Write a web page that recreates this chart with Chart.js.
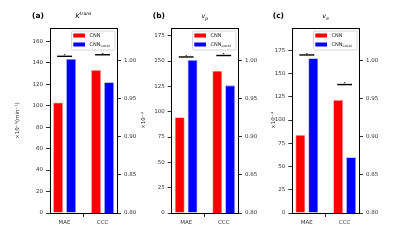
<!DOCTYPE html>
<html>
<head>
<meta charset="utf-8">
<script src="https://cdn.jsdelivr.net/npm/chart.js@4.4.0/dist/chart.umd.min.js"></script>
<style>
  body { margin: 0; background: #fff; width: 400px; height: 240px; position: relative; overflow: hidden; }
  canvas { position: absolute; top: 0; }
</style>
</head>
<body>
<canvas id="ca" width="140" height="240" style="left:0px"></canvas>
<canvas id="cb" width="130" height="240" style="left:140px"></canvas>
<canvas id="cc" width="130" height="240" style="left:270px"></canvas>
<script>
const categories = ['MAE', 'CCC'];
const seriesNames = ['CNN', 'CNN_Local'];
const seriesColors = ['#ff0000', '#0000ff'];

// MAE on left axis, CCC on right axis  [CNN, CNN_Local]
const ktransMae = [103, 143.5];
const ktransCcc = [0.987, 0.971];
const vpMae = [94.5, 151];
const vpCcc = [0.986, 0.967];
const veMae = [84, 166.5];
const veCcc = [0.948, 0.873];

// height of the significance bars [MAE, CCC]
const sigKtrans = [146, 1.007];
const sigVp = [154, 1.006];
const sigVe = [170, 0.968];

const leftTicksA = { max: 172.4, step: 20 };
const leftTicksB = { max: 182.6, step: 25 };
const leftTicksC = { max: 199, step: 25 };
const rightTicks = { min: 0.8, max: 1.042, step: 0.05 };
const xRange = { min: -0.384, max: 1.38 };

const FONT = 'DejaVu Sans';
const tickFont = { family: FONT, size: 5.5 };

function drawRich(ctx, parts, x, y, align) {
  let w = 0;
  parts.forEach(p => { ctx.font = (p.style || '') + ' ' + p.size + 'px "' + FONT + '"'; w += ctx.measureText(p.t).width; });
  let cx = align === 'center' ? x - w / 2 : x;
  parts.forEach(p => {
    ctx.font = (p.style || '') + ' ' + p.size + 'px "' + FONT + '"';
    ctx.fillText(p.t, cx, y + (p.dy || 0));
    cx += ctx.measureText(p.t).width;
  });
}

const decor = {
  id: 'decor',
  afterDatasetsDraw(chart, args, opts) {
    const ctx = chart.ctx, a = chart.chartArea;
    ctx.save();
    // top spine
    ctx.strokeStyle = '#000';
    ctx.lineWidth = 1;
    ctx.beginPath();
    ctx.moveTo(a.left, a.top + 0.5);
    ctx.lineTo(a.right, a.top + 0.5);
    ctx.stroke();
    // significance bars
    [[0, 1, 'y'], [2, 3, 'y1']].forEach(([i, j, ax], k) => {
      const b0 = chart.getDatasetMeta(i).data[k];
      const b1 = chart.getDatasetMeta(j).data[k];
      const yy = chart.scales[ax].getPixelForValue(opts.sig[k]);
      ctx.lineWidth = 1.4;
      ctx.beginPath();
      ctx.moveTo(b0.x - 1, yy);
      ctx.lineTo(b1.x + 1, yy);
      ctx.stroke();
      ctx.fillStyle = '#000';
      ctx.font = '4.5px "' + FONT + '"';
      ctx.textAlign = 'center';
      ctx.textBaseline = 'alphabetic';
      ctx.fillText('*', (b0.x + b1.x) / 2, yy + 0.8);
    });
    // legend
    const lw = 43.5, lh = 19;
    const lx = a.right - 2 - lw, ly = a.top + 3;
    ctx.fillStyle = 'rgba(255,255,255,0.85)';
    ctx.strokeStyle = '#cccccc';
    ctx.lineWidth = 0.8;
    ctx.beginPath();
    ctx.roundRect(lx, ly, lw, lh, 1.5);
    ctx.fill();
    ctx.stroke();
    chart.data.datasets.slice(0, 2).forEach((ds, n) => {
      const ry = ly + 2.5 + n * 9;
      ctx.fillStyle = ds.backgroundColor;
      ctx.fillRect(lx + 1.8, ry, 11.7, 4);
      ctx.fillStyle = '#222';
      ctx.textAlign = 'left';
      ctx.textBaseline = 'middle';
      const [main, sub] = ds.label.split('_');
      const parts = [{ t: main, size: 5 }];
      if (sub) parts.push({ t: sub, size: 3.6, dy: 1.3 });
      drawRich(ctx, parts, lx + 18, ry + 2.2, 'left');
    });
    ctx.restore();
  },
  afterDraw(chart, args, opts) {
    const ctx = chart.ctx, a = chart.chartArea;
    ctx.save();
    ctx.fillStyle = '#000';
    ctx.textBaseline = 'alphabetic';
    ctx.textAlign = 'left';
    ctx.font = 'bold 7.5px "' + FONT + '"';
    ctx.fillText(opts.letter, opts.letterX, 18);
    drawRich(ctx, opts.title, (a.left + a.right) / 2, 18, 'center');
    ctx.restore();
  }
};

function pts(vals) {
  return vals.map((v, i) => ({ x: i, y: v }));
}

function makePanel(id, mae, ccc, sig, left, yLabel, yTitlePad, leftW, rightW, letter, letterX, title) {
  const axisGrid = { display: true, drawOnChartArea: false, drawTicks: true, tickLength: 4, color: '#000', lineWidth: 0.8 };
  const axisBorder = { display: true, color: '#000', width: 1 };
  new Chart(document.getElementById(id), {
    type: 'bar',
    data: {
      datasets: [
        { label: seriesNames[0], data: pts([mae[0], null]), backgroundColor: seriesColors[0], borderColor: '#ff9a9a', yAxisID: 'y' },
        { label: seriesNames[1], data: pts([mae[1], null]), backgroundColor: seriesColors[1], borderColor: '#9a9aff', yAxisID: 'y' },
        { label: seriesNames[0], data: pts([null, ccc[0]]), backgroundColor: seriesColors[0], borderColor: '#ff9a9a', yAxisID: 'y1' },
        { label: seriesNames[1], data: pts([null, ccc[1]]), backgroundColor: seriesColors[1], borderColor: '#9a9aff', yAxisID: 'y1' }
      ]
    },
    options: {
      responsive: false,
      animation: false,
      layout: { padding: { top: 28, left: 0, right: 0, bottom: 0 } },
      datasets: { bar: { skipNull: true, categoryPercentage: 0.684, barPercentage: 0.77, borderWidth: 0.8 } },
      plugins: {
        legend: { display: false },
        tooltip: { enabled: false },
        decor: { sig: sig, letter: letter, letterX: letterX, title: title }
      },
      scales: {
        x: {
          type: 'linear',
          offset: false,
          min: xRange.min, max: xRange.max,
          grid: axisGrid,
          border: axisBorder,
          ticks: { stepSize: 1, includeBounds: false, font: tickFont, color: '#333', padding: 2,
                   callback: v => categories[v] !== undefined ? categories[v] : '' },
          afterFit: s => { s.height = 27; }
        },
        y: {
          position: 'left',
          min: 0, max: left.max,
          grid: axisGrid,
          border: axisBorder,
          ticks: { stepSize: left.step, includeBounds: false, font: tickFont, color: '#333', padding: 3 },
          title: { display: true, text: yLabel, font: tickFont, color: '#333', padding: { top: yTitlePad, bottom: 0 } },
          afterFit: s => { s.width = leftW; }
        },
        y1: {
          position: 'right',
          min: rightTicks.min, max: rightTicks.max,
          grid: axisGrid,
          border: axisBorder,
          ticks: { stepSize: rightTicks.step, includeBounds: false, font: tickFont, color: '#333', padding: 3,
                   callback: v => v.toFixed(2) },
          afterFit: s => { s.width = rightW; }
        }
      }
    },
    plugins: [decor]
  });
}

makePanel('ca', ktransMae, ktransCcc, sigKtrans, leftTicksA, '×10⁻³(min⁻¹)', 14.7, 50, 23, '(a)', 32,
  [{ t: 'K', size: 6.5, style: 'italic' }, { t: 'trans', size: 4.5, style: 'italic', dy: -2.6 }]);
makePanel('cb', vpMae, vpCcc, sigVp, leftTicksB, '×10⁻³', 0, 31.7, 32, '(b)', 12.7,
  [{ t: 'v', size: 6.5, style: 'italic' }, { t: 'p', size: 4.5, style: 'italic', dy: 1.6 }]);
makePanel('cc', veMae, veCcc, sigVe, leftTicksC, '×10⁻⁴', 0, 22.3, 41, '(c)', 2.7,
  [{ t: 'v', size: 6.5, style: 'italic' }, { t: 'e', size: 4.5, style: 'italic', dy: 1.6 }]);
</script>
</body>
</html>
